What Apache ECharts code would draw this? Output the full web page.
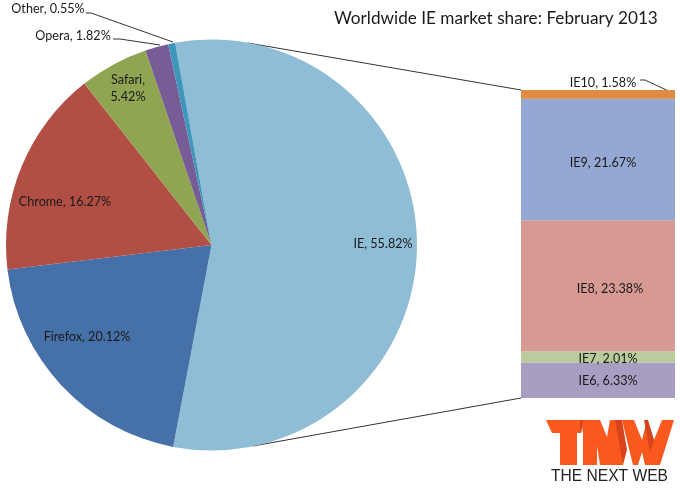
<!DOCTYPE html>
<html>
<head>
<meta charset="utf-8">
<style>html,body{margin:0;background:#fff}#chart{width:680px;height:488px}</style>
<script src="https://cdn.jsdelivr.net/npm/echarts@6/dist/echarts.min.js"></script>
</head>
<body>
<div id="chart"></div>
<script>
var browsers = ['IE', 'Firefox', 'Chrome', 'Safari', 'Opera', 'Other'];
var browserShare = [55.82, 20.12, 16.27, 5.42, 1.82, 0.55];
var browserColors = ['#8fbdd6', '#4571a8', '#b24f45', '#8fa552', '#775c96', '#3e97ba'];
var versions = ['IE6', 'IE7', 'IE8', 'IE9', 'IE10'];
var versionShare = [6.33, 2.01, 23.38, 21.67, 1.58];
var versionColors = ['#a99dc1', '#bacb9c', '#d79a92', '#94a8d3', '#e08a42'];

var FONT = 'Lato';
var TEXT = '#1a1a1a';
var LOGO = '#f9591c';
var LOGO_DARK = '#d8431c';

// pie + stacked bar geometry
var cx = 211.5, cy = 245, r = 205.5, startAngle = 100.2;
var barL = 521, barT = 90, barW = 154, barH = 308;

// label centres for the pie slices, label nudges for the bars
var pieLabelPos = [[383, 244], [87, 337], [65, 202], [128, 88], [73, 36], [48, 9]];
var barLabelNudge = [[10, 1], [10, 2], [12, 3], [5, 3], [5, 4]];

var chart = echarts.init(document.getElementById('chart'));

var versionTotal = versionShare.reduce(function (a, b) { return a + b; }, 0);

function leader(points) {
    return { type: 'polyline', silent: true, shape: { points: points },
        style: { stroke: '#333', lineWidth: 1, fill: null } };
}
function logoPoly(points, fill) {
    return { type: 'polygon', silent: true, shape: { points: points }, style: { fill: fill } };
}

chart.setOption({
    animation: false,
    title: {
        text: 'Worldwide IE market share: February 2013',
        left: 329, top: 5,
        textStyle: { fontFamily: FONT, fontSize: 17.2, fontWeight: 'normal', color: TEXT }
    },
    grid: { left: barL, top: barT, width: barW, height: barH },
    xAxis: { type: 'category', data: ['IE'], show: false },
    yAxis: { type: 'value', min: 0, max: versionTotal, show: false },
    series: [{
        type: 'pie',
        center: [cx, cy],
        radius: r,
        startAngle: startAngle,
        clockwise: true,
        silent: true,
        data: browsers.map(function (name, i) {
            return { name: name, value: browserShare[i], itemStyle: { color: browserColors[i] } };
        }),
        label: {
            position: 'inside',
            fontFamily: FONT, fontSize: 12.6, color: TEXT, lineHeight: 17,
            formatter: function (p) {
                return p.name + (p.name === 'Safari' ? ',\n' : ', ') + p.value.toFixed(2) + '%';
            }
        },
        labelLine: { show: false },
        labelLayout: function (p) {
            var pos = pieLabelPos[p.dataIndex];
            return { x: pos[0], y: pos[1], align: 'center', verticalAlign: 'middle' };
        }
    }].concat(versions.map(function (name, i) {
        return {
            type: 'bar',
            name: name,
            stack: 'ie',
            barWidth: '100%',
            silent: true,
            itemStyle: { color: versionColors[i] },
            label: {
                show: true,
                position: name === 'IE10' ? 'top' : 'inside',
                offset: barLabelNudge[i],
                fontFamily: FONT, fontSize: 12.6, color: TEXT,
                formatter: name + ', ' + versionShare[i].toFixed(2) + '%'
            },
            data: [versionShare[i]]
        };
    })),
    graphic: [
        // zoom lines from pie edge to the bar corners
        leader([[248, 43], [barL, barT]]),
        leader([[253, 446], [barL, barT + barH]]),
        // leader lines of the outside labels
        leader([[86, 13], [91, 13], [173, 42]]),
        leader([[113, 39], [120, 39], [160, 45]]),
        leader([[640, 80], [645, 80], [675, 94]]),
        // TNW logo
        logoPoly([[546, 420], [583, 420], [581, 433], [577, 433], [577, 465], [560, 465], [560, 433], [552, 433]], LOGO),
        logoPoly([[581, 420], [600, 420], [607, 437], [610, 420], [621, 420], [623, 465], [600, 465], [597, 446], [597, 465], [583, 465], [583, 433]], LOGO),
        logoPoly([[615, 420], [622, 420], [627, 450], [623, 465]], LOGO_DARK),
        logoPoly([[622, 420], [634, 420], [642, 440], [647, 420], [654, 440], [662, 420], [674, 420], [660, 465], [645, 465], [642, 452], [638, 465], [633, 465]], LOGO),
        logoPoly([[644, 420], [648, 420], [654, 440], [650, 452]], LOGO_DARK),
        logoPoly([[580, 420], [583, 420], [581, 433], [580, 433]], LOGO_DARK),
        { type: 'text', silent: true, x: 551, y: 469,
          style: { text: 'THE NEXT WEB', fontFamily: 'Liberation Sans', fontSize: 15.6, fill: '#222' } }
    ]
});
</script>
</body>
</html>
